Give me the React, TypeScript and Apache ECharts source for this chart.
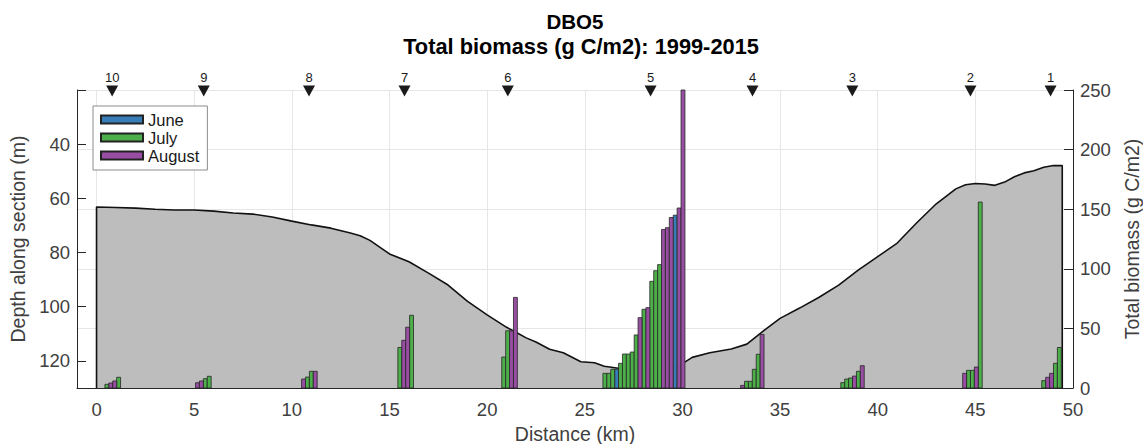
import React, { useEffect, useRef } from "react";
import * as echarts from "echarts";

// ---- data ----
const months = ["June", "July", "August"];

const stationKm = [48.85, 44.75, 38.7, 33.59, 28.37, 21.06, 15.77, 10.88, 5.49, 0.8];
const stationLabels = ["1", "2", "3", "4", "5", "6", "7", "8", "9", "10"];

const profileKm = [0, 1, 2, 3, 4, 5, 6, 7, 8, 9, 10, 11, 12, 13, 13.5, 14, 15, 16, 17, 18, 19, 20, 21, 21.5, 22, 22.5, 23.2, 23.9, 24.8, 25.5, 26, 27, 28, 29, 30, 30.5, 31.4, 32.5, 33.3, 34.2, 35, 36, 37, 38, 39, 40, 41, 42, 43, 44, 44.5, 45, 45.5, 46, 46.5, 47, 47.5, 48, 48.5, 49, 49.45];
const profileDepth = [63.2, 63.4, 63.6, 64, 64.3, 64.3, 64.7, 65.4, 65.8, 66.9, 68.4, 69.8, 71, 72.8, 73.8, 75.5, 80.5, 83.4, 87.6, 92, 98, 103, 107.6, 109.5, 111.5, 113, 115.7, 117, 120.3, 120.7, 122, 123, 123.5, 123, 121, 118.7, 117, 115.6, 113.8, 108.6, 104.3, 100.5, 96.5, 92, 86.5, 81.5, 76.5, 69, 62, 56.5, 55, 54.5, 54.7, 55.2, 54, 52, 50.6, 49.8, 48.5, 47.9, 47.9];

// [distance km, biomass g C/m2]
const juneBars: [number, number][] = [[26.63, 15.7], [29.63, 145]];
const julyBars: [number, number][] = [
  [0.53, 3.1], [1.13, 9.0],
  [5.57, 7.8], [5.77, 9.8],
  [10.8, 9.2], [11.0, 14],
  [15.53, 34], [16.13, 61],
  [20.85, 26], [21.05, 48],
  [26.03, 12.3], [26.23, 12.3], [26.43, 15.7], [26.83, 20.7], [27.03, 28.5], [27.23, 28.5], [27.43, 30.2], [27.63, 44.5], [28.03, 66], [28.43, 89.5], [28.63, 98.4], [28.83, 103.5],
  [33.28, 5.6], [33.48, 5.6], [33.68, 15.7], [33.88, 28.3],
  [38.21, 4.5], [38.41, 7.5], [38.61, 8.4], [39.01, 14],
  [44.65, 14.8], [44.85, 14.8], [45.25, 156],
  [48.5, 6.2], [49.1, 20.7], [49.3, 34],
];
const augustBars: [number, number][] = [
  [0.73, 4.2], [0.93, 5.9],
  [5.17, 4.4], [5.37, 5.9],
  [10.6, 7.5], [11.2, 14],
  [15.73, 40], [15.93, 51],
  [21.25, 48], [21.45, 76],
  [27.83, 59], [28.23, 67.4], [29.03, 133], [29.23, 134.5], [29.43, 143], [29.83, 151], [30.03, 250],
  [33.08, 2.2], [34.08, 45],
  [38.81, 10], [39.21, 18.7],
  [44.45, 12.3], [45.05, 17.6],
  [48.7, 9], [48.9, 12.3],
];

const xTicks = [0, 5, 10, 15, 20, 25, 30, 35, 40, 45, 50];

const FONT = "Liberation Sans, Arial, Helvetica, sans-serif";
const BAR_W = 0.2;
const DEPTH_MIN = 20;
const DEPTH_MAX = 130;
const BIO_MAX = 250;

function barSeries(name: string, data: [number, number][], color: string) {
  return {
    name,
    type: "custom",
    xAxisIndex: 0,
    yAxisIndex: 1,
    data,
    encode: { x: 0, y: 1 },
    itemStyle: { color, borderColor: "#222", borderWidth: 1 },
    z: 5,
    renderItem: (params: any, api: any) => {
      const x = api.value(0);
      const v = api.value(1);
      const p0 = api.coord([x - BAR_W / 2, v]);
      const p1 = api.coord([x + BAR_W / 2, 0]);
      const cs = params.coordSys;
      const shape = echarts.graphic.clipRectByRect(
        { x: p0[0], y: p0[1], width: p1[0] - p0[0], height: p1[1] - p0[1] },
        { x: cs.x, y: cs.y - 1, width: cs.width, height: cs.height + 1 }
      );
      if (!shape) return null;
      return {
        type: "rect",
        shape,
        style: { fill: color, stroke: "#262626", lineWidth: 0.8 },
      };
    },
  };
}

export default function App() {
  const ref = useRef<HTMLDivElement>(null);
  useEffect(() => {
    if (!ref.current) return;
    const chart = echarts.init(ref.current, undefined, { renderer: "svg" });
    const profileData: number[][] = [[profileKm[0], DEPTH_MAX]];
    profileKm.forEach((k, i) => profileData.push([k, profileDepth[i]]));
    profileData.push([profileKm[profileKm.length - 1], DEPTH_MAX]);

    const axisLabelStyle = { fontSize: 18.5, color: "#404040", fontFamily: FONT };
    const nameStyle = { fontSize: 19.5, color: "#404040", fontFamily: FONT };

    chart.setOption({
      animation: false,
      backgroundColor: "#fff",
      graphic: [
        {
          type: "text",
          x: 575,
          y: 21,
          z: 100,
          style: { text: "DBO5", fill: "#000", font: `bold 20.5px ${FONT}`, textAlign: "center", textVerticalAlign: "middle" },
        },
        {
          type: "text",
          x: 581,
          y: 46,
          z: 100,
          style: { text: "Total biomass (g C/m2): 1999-2015", fill: "#000", font: `bold 21.8px ${FONT}`, textAlign: "center", textVerticalAlign: "middle" },
        },
      ],
      grid: { left: 77, right: 70, top: 90, bottom: 56, containLabel: false, outerBoundsMode: "none" },
      legend: {
        data: months,
        orient: "vertical",
        left: 93,
        top: 106,
        itemWidth: 42,
        itemHeight: 8,
        itemGap: 1,
        padding: [5, 8, 6, 7],
        backgroundColor: "#fff",
        borderColor: "#8c8c8c",
        borderWidth: 1,
        icon: "rect",
        textStyle: { fontSize: 16.5, color: "#1a1a1a", fontFamily: FONT },
        z: 20,
      },
      xAxis: {
        type: "value",
        min: -1,
        max: 50,
        name: "Distance (km)",
        nameLocation: "middle",
        nameGap: 34,
        nameTextStyle: nameStyle,
        axisLine: { show: true, onZero: false, lineStyle: { color: "#262626", width: 1 } },
        axisTick: { show: false, customValues: xTicks },
        axisLabel: { ...axisLabelStyle, customValues: xTicks, margin: 12 },
        splitLine: { show: true, lineStyle: { color: "#e6e6e6", width: 1 } },
      },
      yAxis: [
        {
          type: "value",
          inverse: true,
          min: DEPTH_MIN,
          max: DEPTH_MAX,
          interval: 20,
          position: "left",
          name: "Depth along section (m)",
          nameLocation: "middle",
          nameRotate: 90,
          nameGap: 39,
          nameTextStyle: nameStyle,
          axisLine: { show: true, onZero: false, lineStyle: { color: "#262626", width: 1 } },
          axisTick: { show: true, inside: true, length: 9, lineStyle: { color: "#262626", width: 1 } },
          axisLabel: {
            ...axisLabelStyle,
            margin: 7,
            showMaxLabel: false,
            formatter: (v: number) => (v === DEPTH_MIN || v === DEPTH_MAX ? "" : String(v)),
          },
          splitLine: { show: false },
        },
        {
          type: "value",
          min: 0,
          max: BIO_MAX,
          interval: 50,
          position: "right",
          name: "Total biomass (g C/m2)",
          nameLocation: "middle",
          nameRotate: 90,
          nameGap: 38,
          nameTextStyle: nameStyle,
          axisLine: { show: true, onZero: false, lineStyle: { color: "#262626", width: 1 } },
          axisTick: { show: true, inside: true, length: 9, lineStyle: { color: "#262626", width: 1 } },
          axisLabel: { ...axisLabelStyle, margin: 7 },
          splitLine: { show: true, lineStyle: { color: "#e6e6e6", width: 1 } },
        },
      ],
      series: [
        {
          name: "profile",
          type: "line",
          xAxisIndex: 0,
          yAxisIndex: 0,
          data: profileData,
          showSymbol: false,
          symbol: "none",
          smooth: false,
          lineStyle: { color: "#111", width: 1.6 },
          areaStyle: { color: "#bdbdbd", opacity: 1, origin: "end" },
          z: 2,
          silent: true,
        },
        barSeries("June", juneBars, "#377eb8"),
        barSeries("July", julyBars, "#4daf4a"),
        barSeries("August", augustBars, "#984ea3"),
        {
          name: "stations",
          type: "scatter",
          xAxisIndex: 0,
          yAxisIndex: 1,
          data: stationKm.map((k, i) => ({ value: [k, BIO_MAX], name: stationLabels[i] })),
          symbol: "triangle",
          symbolRotate: 180,
          symbolSize: [12, 11],
          symbolOffset: [0, 1],
          clip: false,
          itemStyle: { color: "#1a1a1a", opacity: 1 },
          label: {
            show: true,
            position: "top",
            distance: 2,
            formatter: (p: any) => p.name,
            fontSize: 13,
            color: "#1a1a1a",
            fontFamily: FONT,
          },
          z: 8,
        },
      ],
    });
    return () => chart.dispose();
  }, []);
  return (
    <div
      ref={ref}
      style={{ position: "fixed", left: 0, top: 0, width: 1143, height: 444 }}
    />
  );
}
